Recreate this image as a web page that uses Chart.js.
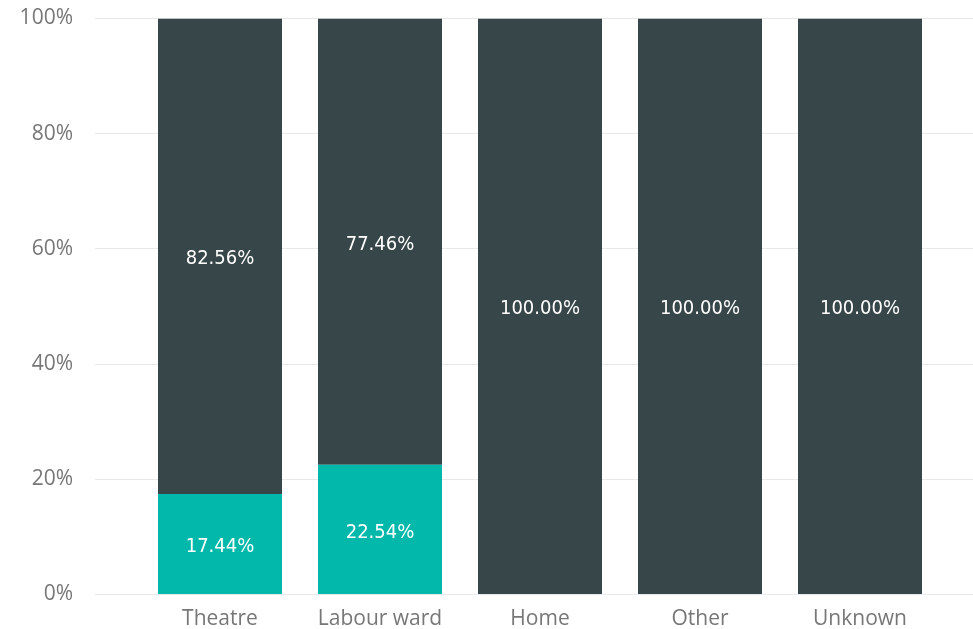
<!DOCTYPE html>
<html>
<head>
<meta charset="utf-8">
<script src="https://cdn.jsdelivr.net/npm/chart.js@4/dist/chart.umd.min.js"></script>
<style>
html,body{margin:0;padding:0;background:#fff;}
#wrap{width:973px;height:629px;position:relative;}
</style>
</head>
<body>
<div id="wrap"><canvas id="c" width="973" height="629"></canvas></div>
<script>
const categories = ["Theatre", "Labour ward", "Home", "Other", "Unknown"];
const bottomSeries = [17.44, 22.54, 0, 0, 0];
const topSeries = [82.56, 77.46, 100, 100, 100];
const yTicks = [0, 20, 40, 60, 80, 100];

const tealColor = "#01B8AA";
const darkColor = "#374649";

const toPoints = arr => arr.map((v, i) => ({x: i, y: v}));

const labelPlugin = {
  id: "barLabels",
  afterDatasetsDraw(chart) {
    const ctx = chart.ctx;
    ctx.save();
    ctx.font = "20px 'DejaVu Sans Condensed', 'DejaVu Sans', sans-serif";
    ctx.fillStyle = "#ffffff";
    ctx.textAlign = "center";
    ctx.textBaseline = "middle";
    chart.data.datasets.forEach((ds, di) => {
      const meta = chart.getDatasetMeta(di);
      meta.data.forEach((bar, i) => {
        const v = ds.data[i].y;
        if (!v) return;
        const yc = (bar.y + bar.base) / 2;
        ctx.fillText(v.toFixed(2) + "%", bar.x, yc + 3);
      });
    });
    ctx.restore();
  }
};

new Chart(document.getElementById("c"), {
  type: "bar",
  data: {
    datasets: [
      {label: "A", data: toPoints(bottomSeries), backgroundColor: tealColor,
       categoryPercentage: 1, barPercentage: 0.775, borderWidth: 0, inflateAmount: 0},
      {label: "B", data: toPoints(topSeries), backgroundColor: darkColor,
       categoryPercentage: 1, barPercentage: 0.775, borderWidth: 0, inflateAmount: 0}
    ]
  },
  options: {
    responsive: false,
    animation: false,
    layout: {padding: {top: 18.5, right: 0, left: 0, bottom: 0}},
    plugins: {legend: {display: false}, tooltip: {enabled: false}},
    scales: {
      x: {
        type: "linear",
        stacked: true,
        offset: false,
        min: -0.78125,
        max: 4.70625,
        afterBuildTicks(scale) {
          scale.ticks = categories.map((c, i) => ({value: i}));
        },
        afterFit(scale) { scale.height = 34.5; scale.paddingLeft = 0; scale.paddingRight = 0; },
        grid: {display: false, drawTicks: false, offset: false},
        border: {display: false},
        ticks: {
          padding: 12,
          color: "#777777",
          font: {family: "'Open Sans', sans-serif", size: 21},
          callback: v => categories[v],
          autoSkip: false,
          maxRotation: 0
        }
      },
      y: {
        stacked: true,
        min: 0,
        max: 100,
        afterBuildTicks(scale) {
          scale.ticks = yTicks.map(v => ({value: v}));
        },
        afterFit(scale) { scale.width = 95; scale.paddingTop = 0; scale.paddingBottom = 0; },
        grid: {color: "#e8e8e8", lineWidth: 1, drawTicks: false},
        border: {display: false},
        ticks: {
          padding: 22,
          color: "#777777",
          font: {family: "'Open Sans', sans-serif", size: 21},
          callback: v => v + "%"
        }
      }
    }
  },
  plugins: [labelPlugin]
});
</script>
</body>
</html>
